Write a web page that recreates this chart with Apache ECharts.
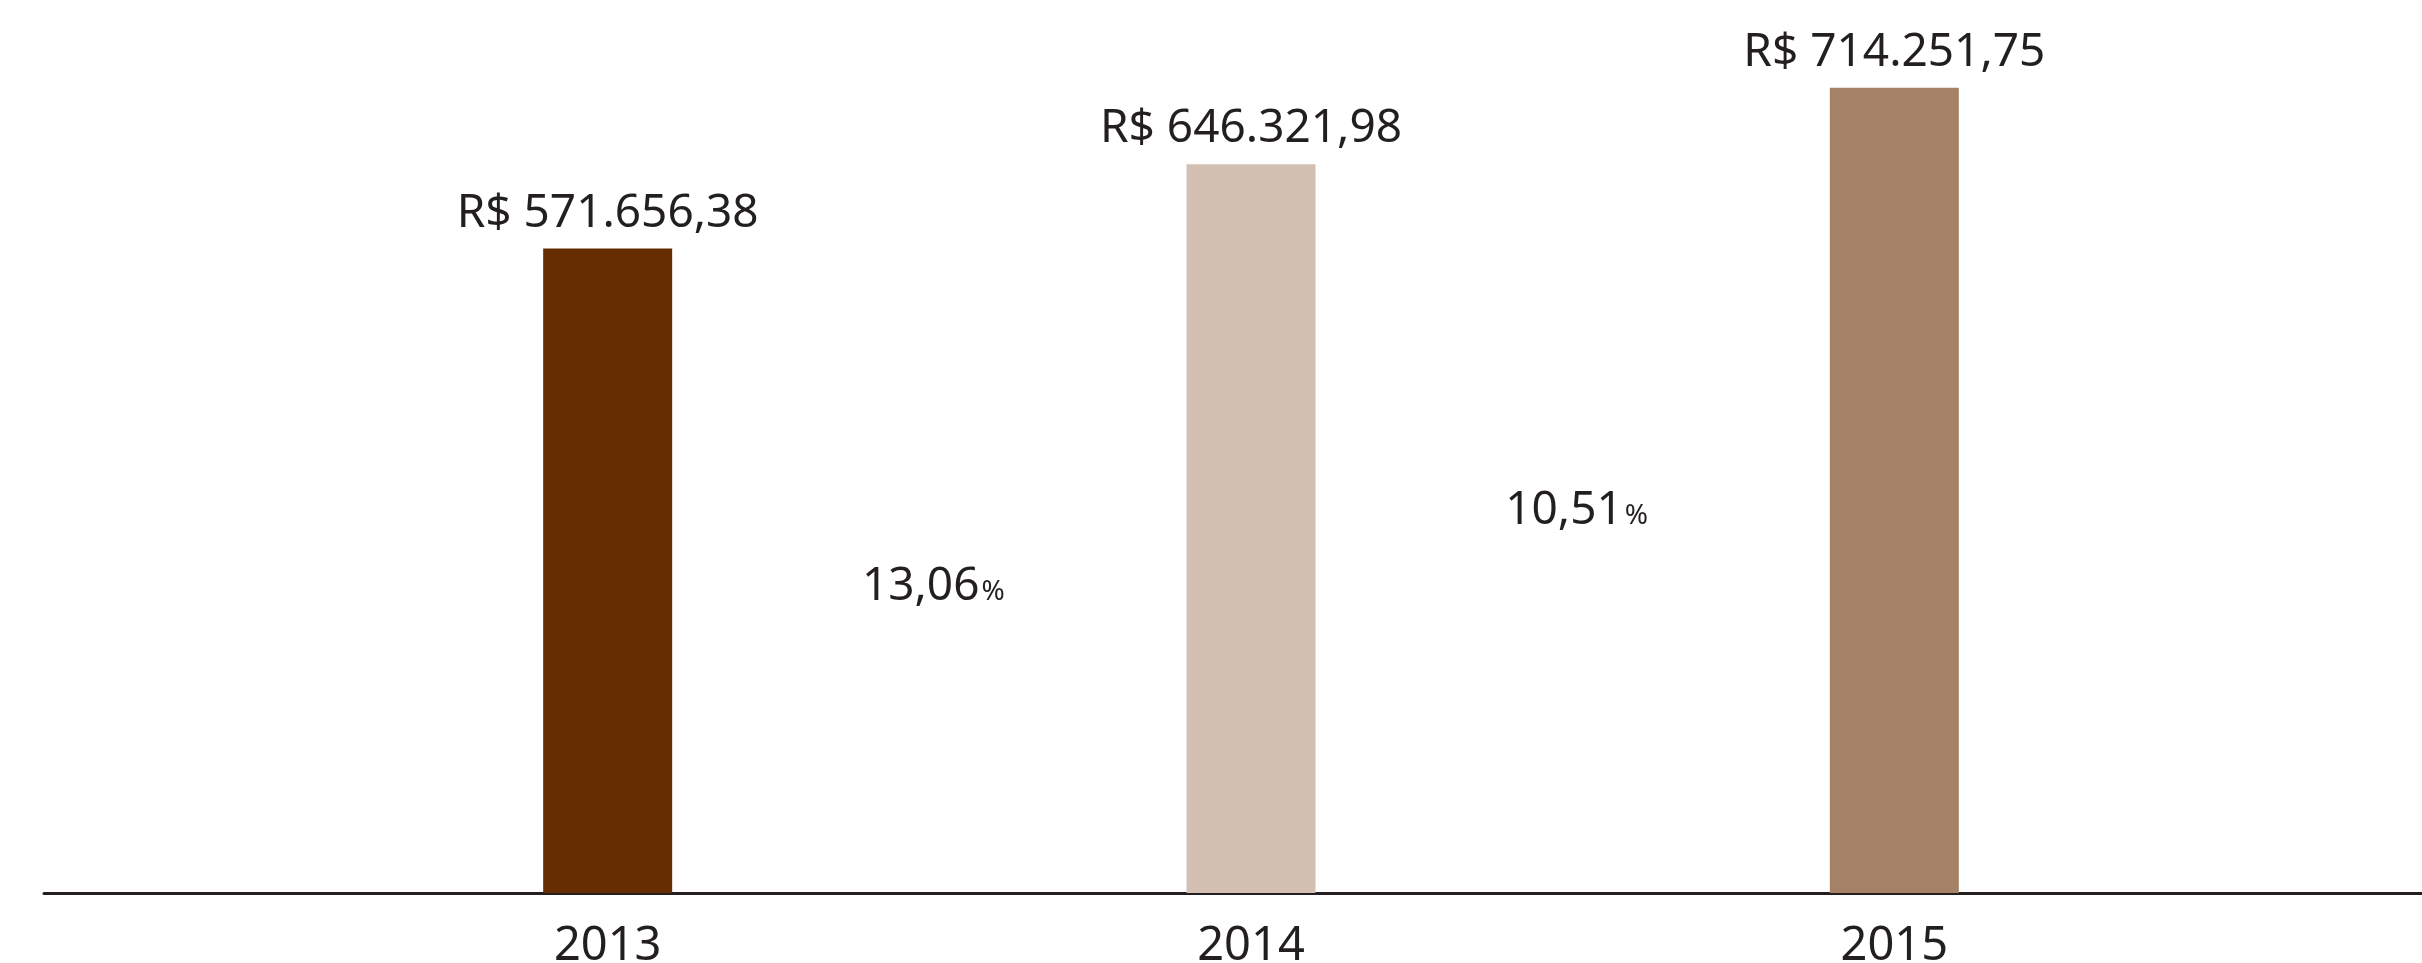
<!DOCTYPE html>
<html>
<head>
<meta charset="utf-8">
<script src="https://cdn.jsdelivr.net/npm/echarts@6/dist/echarts.min.js"></script>
<style>
  html, body { margin: 0; padding: 0; background: #ffffff; }
  #chart { width: 2422px; height: 963px; }
</style>
</head>
<body>
<div id="chart"></div>
<script>
// Annual totals (R$) and year-over-year growth between consecutive years
const years = ['2013', '2014', '2015'];
const totals = [571656.38, 646321.98, 714251.75];
const growth = ['13,06', '10,51'];
const barColors = ['#662d00', '#d4c0b2', '#a58166'];

const textColor = '#231f20';
const fontFamily = '"Noto Sans", sans-serif';

// Brazilian currency format: R$ 571.656,38
function brl(v) {
  const parts = v.toFixed(2).split('.');
  const intPart = parts[0].replace(/\B(?=(\d{3})+(?!\d))/g, '.');
  return 'R$ ' + intPart + ',' + parts[1];
}

// Growth labels sit between two bars, anchored on the later year's value
const growthPoints = growth.map((g, i) => ({ value: [i + 0.5, totals[i + 1]], g: g }));

const chart = echarts.init(document.getElementById('chart'), null, { renderer: 'canvas' });

chart.setOption({
  animation: false,
  backgroundColor: '#ffffff',
  grid: [
    { left: 286, right: 206, top: 0, bottom: 70, containLabel: false, outerBoundsMode: 'none' },
    { left: 44, right: 0, top: 0, bottom: 70, containLabel: false, outerBoundsMode: 'none' }
  ],
  xAxis: [
    {
      type: 'category', gridIndex: 0, data: years,
      axisLine: { show: false }, axisTick: { show: false },
      axisLabel: { color: textColor, fontFamily: fontFamily, fontSize: 47, margin: 30 }
    },
    {
      type: 'value', gridIndex: 0, min: -0.5, max: 2.5, show: false
    },
    {
      type: 'value', gridIndex: 1, min: 0, max: 1,
      axisLine: { show: true, lineStyle: { color: textColor, width: 3 } },
      axisTick: { show: false }, axisLabel: { show: false }, splitLine: { show: false }
    }
  ],
  yAxis: [
    { type: 'value', gridIndex: 0, min: 0, max: 792000, show: false },
    { type: 'value', gridIndex: 1, min: 0, max: 1, show: false }
  ],
  series: [
    {
      type: 'bar', xAxisIndex: 0, yAxisIndex: 0, barWidth: 129,
      data: totals.map((v, i) => ({ value: v, itemStyle: { color: barColors[i] } })),
      label: {
        show: true, position: 'top', distance: 12,
        color: textColor, fontFamily: fontFamily, fontSize: 46,
        formatter: p => brl(p.value)
      }
    },
    {
      type: 'scatter', xAxisIndex: 1, yAxisIndex: 0, symbolSize: 0,
      itemStyle: { opacity: 1 },
      data: growthPoints,
      label: {
        show: true, position: 'inside', offset: [4, 421],
        formatter: p => '{n|' + p.data.g + '}{p|%}',
        rich: {
          n: { color: textColor, fontFamily: fontFamily, fontSize: 46, lineHeight: 50, verticalAlign: 'bottom' },
          p: { color: textColor, fontFamily: fontFamily, fontSize: 28, lineHeight: 50, verticalAlign: 'bottom', padding: [0, 0, 4, 2] }
        }
      }
    }
  ]
});
</script>
</body>
</html>
